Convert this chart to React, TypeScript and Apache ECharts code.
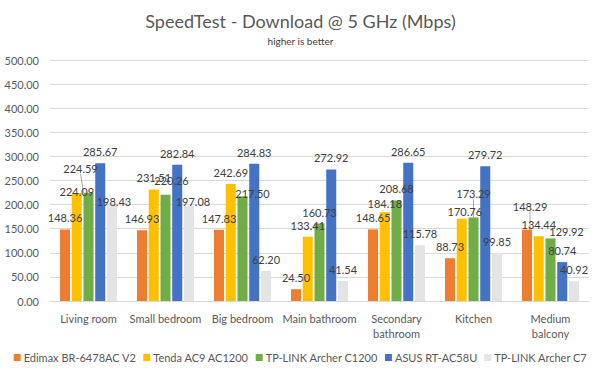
import React, { useEffect, useRef } from "react";
import * as echarts from "echarts";

const categories = [
  "Living room",
  "Small bedroom",
  "Big bedroom",
  "Main bathroom",
  "Secondary\nbathroom",
  "Kitchen",
  "Medium\nbalcony",
];
const seriesNames = [
  "Edimax BR-6478AC V2",
  "Tenda AC9 AC1200",
  "TP-LINK Archer C1200",
  "ASUS RT-AC58U",
  "TP-LINK Archer C7",
];
const edimax = [148.36, 146.93, 147.83, 24.5, 148.65, 88.73, 148.29];
const tenda = [224.09, 231.51, 242.69, 133.41, 184.18, 170.76, 134.44];
const archerC1200 = [224.59, 220.26, 217.5, 160.73, 208.68, 173.29, 129.92];
const asus = [285.67, 282.84, 284.83, 272.92, 286.65, 279.72, 80.74];
const archerC7 = [198.43, 197.08, 62.2, 41.54, 115.78, 99.85, 40.92];
const colors = ["#ED7D31", "#FFC000", "#70AD47", "#4472C4", "#E4E4E4"];

// Hand-placed data labels in the original: [series, category, dx, dy, leader line]
const labelNudges: [number, number, number, number, boolean][] = [
  [1, 0, 0, 10, false],
  [2, 0, -8, -13, true],
  [4, 0, 2, 8, false],
  [2, 1, 6, -3, false],
  [4, 1, 4, 7, false],
  [2, 2, 10, 9, false],
  [1, 4, 0, 3, false],
  [1, 5, 3, 4, false],
  [2, 5, 0, -12, true],
  [0, 6, 3, -12, true],
  [2, 6, 16, 5, false],
];

const FONT = "Lato";

export default function App() {
  const ref = useRef<HTMLDivElement>(null);
  useEffect(() => {
    if (!ref.current) return;
    const chart = echarts.init(ref.current, undefined, { renderer: "svg" });
    const allData = [edimax, tenda, archerC1200, asus, archerC7];
    const findNudge = (s: number, c: number) =>
      labelNudges.find((n) => n[0] === s && n[1] === c);
    chart.setOption({
      animation: false,
      textStyle: { fontFamily: FONT },
      title: {
        text: "SpeedTest - Download @ 5 GHz (Mbps)",
        subtext: "higher is better",
        left: "center",
        top: 7,
        itemGap: 6,
        textStyle: { fontSize: 18, fontWeight: "normal", color: "#595959", fontFamily: FONT },
        subtextStyle: { fontSize: 10, color: "#404040", fontFamily: FONT },
      },
      legend: {
        data: seriesNames,
        bottom: 10,
        left: "center",
        icon: "rect",
        itemWidth: 7,
        itemHeight: 7,
        itemGap: 7,
        textStyle: { fontSize: 11, color: "#595959", fontFamily: FONT, padding: [0, 0, 0, -2] },
      },
      grid: { left: 50, right: 12, top: 60, bottom: 77, containLabel: false },
      xAxis: {
        type: "category",
        data: categories,
        axisLine: { lineStyle: { color: "#D9D9D9" } },
        axisTick: { show: false },
        axisLabel: { color: "#595959", fontSize: 11, margin: 10, lineHeight: 15, interval: 0 },
      },
      yAxis: {
        type: "value",
        min: 0,
        max: 500,
        interval: 50,
        axisLine: { show: false },
        axisTick: { show: false },
        splitLine: { lineStyle: { color: "#D9D9D9" } },
        axisLabel: {
          color: "#595959",
          fontSize: 11,
          margin: 11,
          formatter: (v: number) => v.toFixed(2),
        },
      },
      series: seriesNames.map((name, i) => ({
        name,
        type: "bar",
        data: allData[i].map((v, j) => {
          const n = findNudge(i, j);
          return n && n[4]
            ? { value: v, labelLine: { show: true, lineStyle: { color: "#A6A6A6", width: 1 } } }
            : { value: v };
        }),
        itemStyle: { color: colors[i] },
        barGap: "17%",
        barCategoryGap: "26%",
        labelLayout: (p: any) => {
          const n = findNudge(p.seriesIndex, p.dataIndex);
          return n ? { dx: n[2], dy: n[3] } : {};
        },
        label: {
          show: true,
          position: "top",
          distance: 6,
          color: "#404040",
          fontSize: 11,
          fontFamily: FONT,
          formatter: (p: any) => Number(p.value).toFixed(2),
        },
      })),
    });
    return () => chart.dispose();
  }, []);
  return (
    <div
      ref={ref}
      style={{ position: "absolute", left: 0, top: 0, width: 601, height: 378 }}
    />
  );
}
